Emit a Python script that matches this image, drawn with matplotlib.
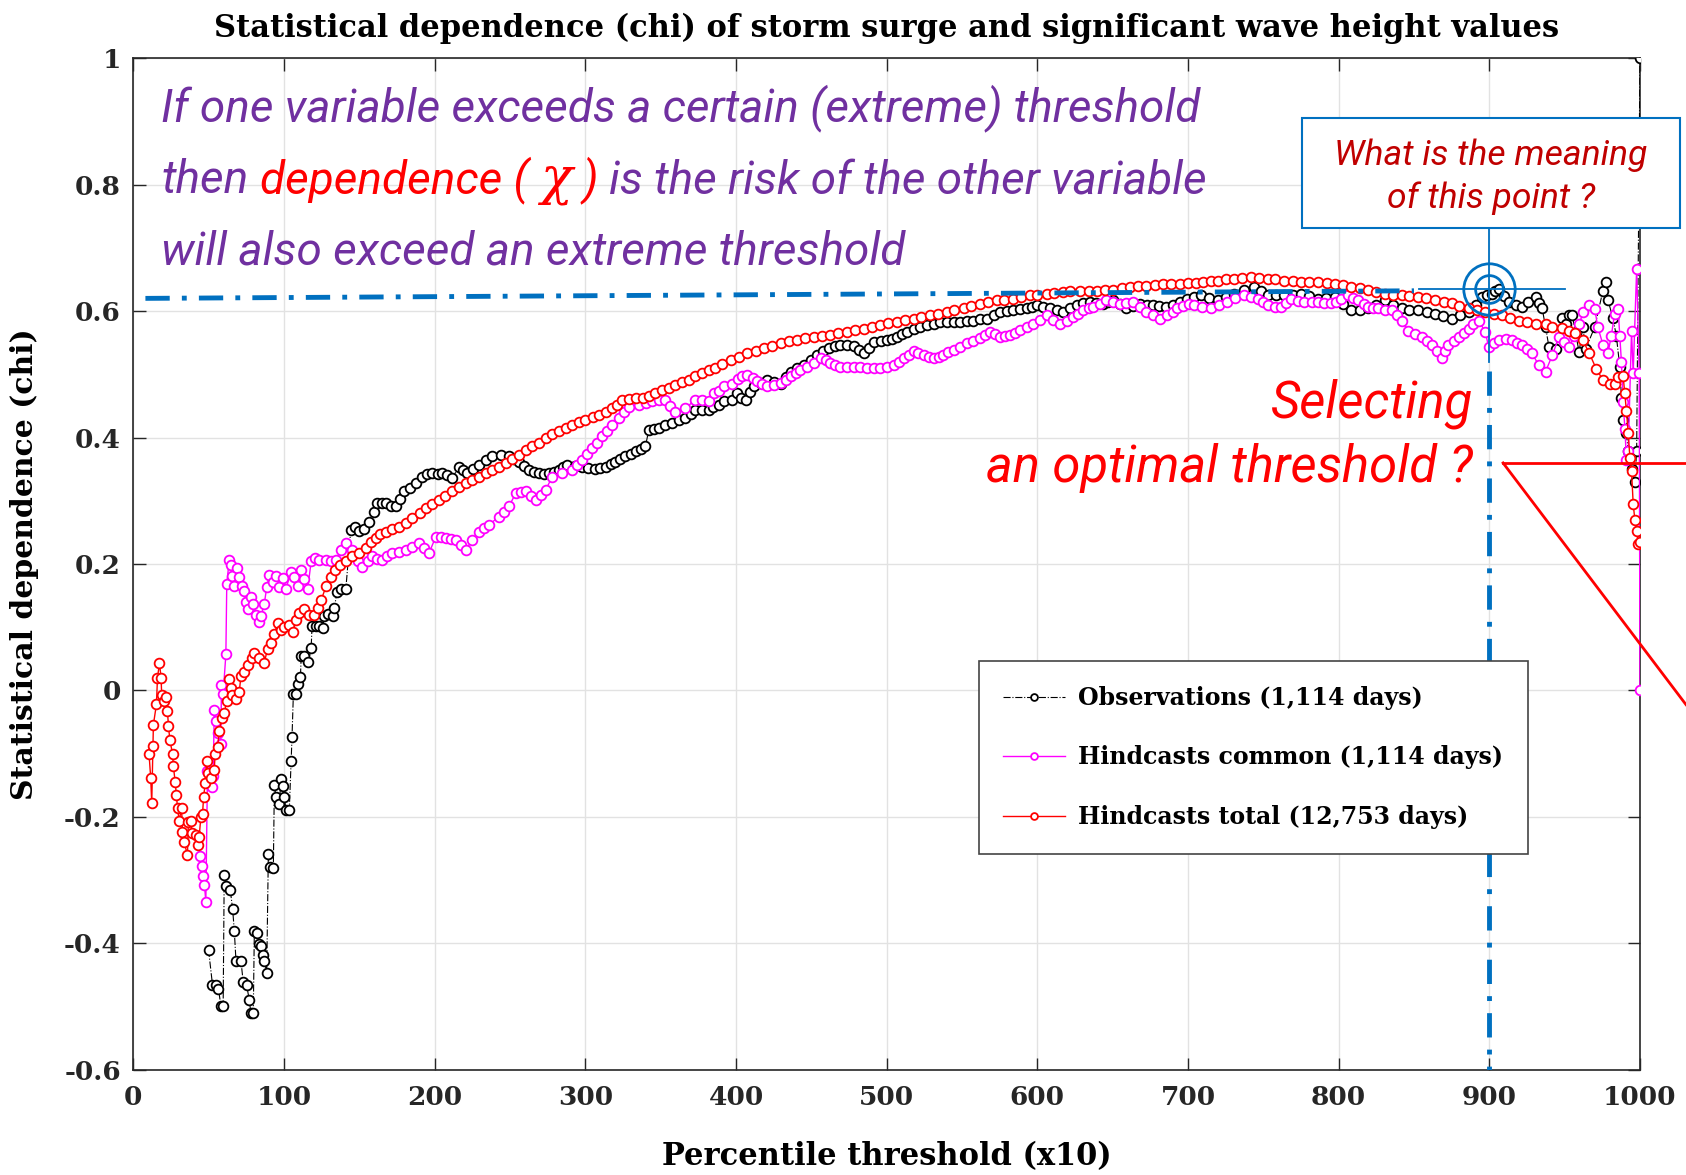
import matplotlib
matplotlib.use('Agg')
import matplotlib.pyplot as plt
from matplotlib.transforms import offset_copy
from matplotlib.patches import Rectangle
from matplotlib.lines import Line2D

plt.rcParams['font.family'] = ['DejaVu Serif']
plt.rcParams['font.weight'] = 'bold'

# Observations (1,114 days)
obs_x = [49.9, 52.5, 54.8, 56.5, 58.1, 59.6, 60.3, 61.4, 64.3, 65.9, 67.0, 68.1, 71.4, 72.9, 75.2, 76.9,
         78.0, 79.6, 80.3, 81.8, 83.1, 84.7, 85.8, 86.9, 88.5, 89.6, 90.7, 92.9, 93.6, 94.7, 96.9, 98.0,
         99.1, 100.2, 101.3, 103.5, 104.7, 105.3, 106.2, 108.0, 109.5, 110.9, 111.4, 113.5, 116.2, 118.0,
         118.6, 121.3, 123.5, 125.7, 126.8, 129.0, 132.4, 133.5, 135.0, 137.5, 141.0, 144.3, 147.0, 150.0,
         153.0, 156.5, 159.5, 162.0, 165.0, 167.5, 171.0, 174.1, 177.0, 179.7, 183.5, 187.4, 191.8, 195.0,
         198.5, 202.0, 205.1, 208.5, 211.7, 216.1, 219.0, 221.7, 225.5, 229.4, 234.0, 238.2, 243.8, 249.3,
         252.5, 255.9, 259.0, 262.5, 266.0, 269.2, 272.5, 275.8, 279.0, 282.4, 285.0, 288.0, 293.0, 297.9,
         302.0, 306.7, 310.0, 313.4, 317.0, 320.0, 323.0, 326.6, 330.0, 333.3, 337.0, 339.9, 342.1, 345.5,
         348.7, 353.0, 357.6, 362.0, 366.4, 370.0, 373.0, 377.5, 381.8, 385.0, 388.5, 392.0, 397.3, 400.9,
         403.5, 406.4, 409.0, 412.0, 416.5, 420.8, 425.0, 429.6, 433.0, 436.2, 440.5, 445.0, 449.5, 453.9,
         457.5, 461.6, 465.5, 469.3, 473.5, 478.1, 481.5, 484.8, 488.0, 491.4, 496.0, 500.2, 503.5, 506.8,
         510.0, 513.5, 518.0, 522.3, 527.0, 531.1, 535.5, 540.0, 544.5, 548.8, 553.0, 557.6, 562.0, 566.4,
         571.0, 575.3, 580.0, 584.1, 588.5, 592.9, 596.5, 599.6, 604.0, 608.4, 613.0, 617.2, 621.5, 626.0,
         630.5, 634.8, 639.0, 643.7, 647.0, 650.3, 655.0, 659.1, 663.5, 668.0, 672.5, 676.8, 681.0, 685.6,
         690.0, 694.5, 699.6, 704.0, 708.4, 714.0, 719.6, 725.0, 730.7, 737.0, 744.0, 748.5, 752.9, 758.5,
         764.0, 769.5, 775.1, 780.5, 786.2, 791.5, 797.3, 803.0, 808.4, 814.0, 819.6, 825.0, 830.7, 836.0,
         841.8, 847.0, 852.9, 858.5, 864.0, 869.5, 875.1, 880.5, 886.2, 891.0, 895.1, 898.5, 901.8, 904.0,
         906.2, 909.5, 912.9, 917.5, 921.8, 926.0, 930.7, 933.0, 935.1, 937.3, 939.6, 944.0, 948.5, 950.7,
         953.0, 955.1, 959.6, 962.0, 964.0, 970.0, 975.4, 977.6, 978.7, 982.0, 984.3, 986.6, 987.7, 988.8,
         991.0, 992.2, 994.4, 996.6, 997.8, 1000.0]
obs_y = [-0.410, -0.465, -0.465, -0.472, -0.499, -0.499, -0.292, -0.309, -0.315, -0.346, -0.380, -0.427,
         -0.427, -0.461, -0.466, -0.489, -0.510, -0.510, -0.380, -0.384, -0.401, -0.404, -0.418, -0.427,
         -0.446, -0.258, -0.279, -0.281, -0.149, -0.169, -0.179, -0.140, -0.151, -0.169, -0.189, -0.189,
         -0.112, -0.074, -0.006, -0.006, 0.010, 0.021, 0.055, 0.055, 0.045, 0.067, 0.102, 0.102, 0.102,
         0.099, 0.117, 0.121, 0.117, 0.131, 0.155, 0.160, 0.160, 0.254, 0.258, 0.252, 0.256, 0.267, 0.282,
         0.296, 0.297, 0.296, 0.292, 0.291, 0.303, 0.315, 0.320, 0.328, 0.338, 0.342, 0.344, 0.343, 0.344,
         0.340, 0.336, 0.354, 0.349, 0.344, 0.351, 0.357, 0.364, 0.370, 0.373, 0.370, 0.366, 0.362, 0.355,
         0.349, 0.346, 0.344, 0.343, 0.344, 0.346, 0.349, 0.353, 0.357, 0.355, 0.354, 0.352, 0.351, 0.352,
         0.354, 0.358, 0.362, 0.366, 0.370, 0.374, 0.378, 0.382, 0.386, 0.412, 0.414, 0.415, 0.419, 0.423,
         0.427, 0.431, 0.437, 0.444, 0.444, 0.444, 0.448, 0.452, 0.458, 0.460, 0.470, 0.463, 0.460, 0.472,
         0.481, 0.486, 0.491, 0.488, 0.484, 0.495, 0.504, 0.510, 0.515, 0.523, 0.531, 0.536, 0.541, 0.544,
         0.546, 0.546, 0.544, 0.538, 0.533, 0.542, 0.551, 0.553, 0.554, 0.556, 0.559, 0.563, 0.567, 0.571,
         0.575, 0.578, 0.580, 0.582, 0.583, 0.583, 0.583, 0.584, 0.585, 0.587, 0.588, 0.593, 0.598, 0.600,
         0.601, 0.603, 0.604, 0.607, 0.609, 0.607, 0.604, 0.601, 0.598, 0.604, 0.609, 0.612, 0.614, 0.613,
         0.611, 0.614, 0.617, 0.611, 0.604, 0.608, 0.611, 0.610, 0.609, 0.608, 0.606, 0.610, 0.614, 0.619,
         0.622, 0.625, 0.621, 0.617, 0.622, 0.627, 0.633, 0.638, 0.632, 0.625, 0.625, 0.625, 0.626, 0.627,
         0.623, 0.619, 0.620, 0.622, 0.611, 0.601, 0.602, 0.604, 0.610, 0.617, 0.610, 0.604, 0.602, 0.601,
         0.598, 0.596, 0.592, 0.588, 0.593, 0.598, 0.610, 0.622, 0.625, 0.627, 0.632, 0.635, 0.624, 0.614,
         0.610, 0.606, 0.614, 0.622, 0.612, 0.604, 0.575, 0.543, 0.540, 0.589, 0.580, 0.593, 0.593, 0.535,
         0.575, 0.540, 0.575, 0.632, 0.646, 0.618, 0.589, 0.561, 0.512, 0.463, 0.428, 0.407, 0.379, 0.350,
         0.329, 0.379, 1.000]

# Hindcasts common (1,114 days)
com_x = [44.3, 45.5, 46.3, 47.2, 48.1, 49.2, 52.5, 53.0, 53.7, 54.8, 55.9, 58.0, 58.5, 59.6, 61.4, 62.0,
         63.6, 64.7, 65.8, 67.0, 68.5, 70.3, 72.0, 73.6, 74.7, 75.8, 78.0, 79.6, 81.4, 83.1, 84.7, 86.9,
         88.5, 90.2, 92.5, 94.7, 96.9, 99.1, 101.3, 104.7, 106.9, 109.0, 111.3, 113.5, 115.7, 118.0, 120.8,
         123.3, 127.7, 131.0, 134.4, 138.0, 141.0, 145.4, 149.0, 152.0, 155.5, 158.6, 162.0, 165.3, 168.5,
         171.9, 176.5, 180.7, 185.0, 189.6, 193.0, 196.2, 200.7, 204.0, 207.3, 210.5, 213.9, 217.5, 220.6,
         225.0, 229.4, 233.0, 236.1, 242.7, 246.0, 249.3, 253.8, 257.0, 260.4, 264.0, 267.0, 270.5, 273.6,
         278.1, 284.6, 291.3, 294.5, 297.9, 301.0, 304.5, 308.0, 311.2, 314.5, 317.8, 322.2, 325.5, 328.8,
         335.5, 340.0, 344.3, 349.0, 353.1, 356.5, 359.8, 366.4, 373.0, 377.5, 381.8, 385.4, 388.5, 392.0,
         397.3, 401.0, 404.0, 407.5, 411.0, 414.2, 417.5, 420.8, 425.0, 429.6, 433.0, 436.2, 439.5, 442.8,
         447.0, 451.7, 456.1, 459.5, 462.7, 466.0, 469.3, 473.5, 478.1, 482.5, 486.9, 491.5, 495.8, 500.0,
         504.6, 508.0, 511.3, 514.5, 517.9, 521.0, 524.5, 528.0, 531.1, 534.5, 537.7, 541.0, 544.4, 548.5,
         553.2, 557.5, 562.0, 565.5, 568.7, 572.0, 575.3, 578.5, 581.9, 585.0, 588.5, 593.0, 597.4, 601.5,
         606.2, 610.5, 615.0, 619.5, 623.8, 627.0, 630.5, 634.0, 637.1, 641.5, 645.9, 650.5, 654.7, 659.0,
         663.6, 668.0, 672.4, 677.0, 681.2, 686.2, 690.0, 692.9, 697.0, 701.0, 704.0, 709.5, 715.1, 720.5,
         726.2, 731.5, 737.3, 742.0, 746.2, 749.5, 752.9, 757.5, 761.8, 765.0, 768.4, 773.0, 777.3, 782.0,
         786.2, 790.5, 795.1, 798.5, 801.8, 806.2, 809.5, 812.9, 816.5, 819.6, 823.0, 826.2, 830.5, 835.1,
         838.5, 841.8, 846.2, 850.5, 855.1, 858.5, 861.8, 865.0, 868.4, 870.5, 872.9, 876.5, 879.6, 883.0,
         886.2, 889.5, 892.9, 897.3, 899.6, 903.0, 906.2, 911.0, 915.1, 918.5, 921.8, 925.0, 928.4, 932.9,
         937.3, 941.8, 946.2, 949.5, 952.9, 956.5, 959.6, 962.5, 966.4, 970.0, 972.0, 975.4, 978.7, 981.0,
         983.2, 985.5, 986.6, 987.7, 988.8, 990.0, 991.0, 992.2, 994.4, 995.5, 997.8, 999.5, 1000.0]
com_y = [-0.262, -0.277, -0.293, -0.308, -0.334, -0.128, -0.152, -0.135, -0.031, -0.049, -0.067, -0.084,
         0.008, -0.005, 0.057, 0.168, 0.206, 0.198, 0.181, 0.165, 0.194, 0.180, 0.165, 0.157, 0.140, 0.129,
         0.148, 0.137, 0.120, 0.109, 0.117, 0.137, 0.163, 0.182, 0.171, 0.181, 0.163, 0.178, 0.161, 0.188,
         0.180, 0.165, 0.191, 0.177, 0.160, 0.204, 0.210, 0.206, 0.206, 0.205, 0.206, 0.222, 0.233, 0.222,
         0.205, 0.196, 0.205, 0.212, 0.208, 0.206, 0.212, 0.217, 0.219, 0.222, 0.227, 0.233, 0.225, 0.217,
         0.243, 0.242, 0.241, 0.240, 0.238, 0.230, 0.222, 0.238, 0.251, 0.257, 0.262, 0.275, 0.283, 0.291,
         0.312, 0.314, 0.315, 0.308, 0.301, 0.309, 0.317, 0.338, 0.344, 0.349, 0.357, 0.365, 0.374, 0.383,
         0.392, 0.402, 0.411, 0.420, 0.431, 0.440, 0.449, 0.452, 0.455, 0.457, 0.459, 0.460, 0.450, 0.441,
         0.446, 0.460, 0.459, 0.457, 0.470, 0.473, 0.481, 0.485, 0.493, 0.497, 0.499, 0.494, 0.489, 0.485,
         0.481, 0.483, 0.486, 0.491, 0.497, 0.502, 0.507, 0.512, 0.518, 0.525, 0.522, 0.518, 0.515, 0.512,
         0.512, 0.512, 0.511, 0.510, 0.510, 0.510, 0.512, 0.515, 0.520, 0.525, 0.531, 0.536, 0.534, 0.531,
         0.528, 0.525, 0.528, 0.531, 0.535, 0.538, 0.543, 0.549, 0.553, 0.557, 0.562, 0.567, 0.563, 0.559,
         0.560, 0.562, 0.566, 0.570, 0.575, 0.580, 0.586, 0.593, 0.586, 0.580, 0.585, 0.590, 0.596, 0.601,
         0.604, 0.606, 0.611, 0.617, 0.614, 0.611, 0.612, 0.614, 0.606, 0.598, 0.593, 0.588, 0.593, 0.598,
         0.604, 0.608, 0.611, 0.609, 0.606, 0.604, 0.609, 0.614, 0.620, 0.625, 0.622, 0.619, 0.614, 0.609,
         0.607, 0.606, 0.612, 0.619, 0.616, 0.614, 0.614, 0.614, 0.613, 0.612, 0.615, 0.619, 0.625, 0.621,
         0.617, 0.611, 0.606, 0.605, 0.604, 0.602, 0.601, 0.593, 0.585, 0.569, 0.564, 0.559, 0.552, 0.546,
         0.536, 0.525, 0.536, 0.546, 0.553, 0.559, 0.566, 0.572, 0.579, 0.585, 0.567, 0.543, 0.549, 0.554,
         0.555, 0.554, 0.550, 0.546, 0.540, 0.533, 0.514, 0.504, 0.530, 0.559, 0.551, 0.543, 0.561, 0.580,
         0.598, 0.610, 0.603, 0.575, 0.547, 0.533, 0.561, 0.596, 0.603, 0.561, 0.519, 0.456, 0.414, 0.365,
         0.379, 0.568, 0.502, 0.667, 0.502, 0.000]

# Hindcasts total (12,753 days)
tot_x = [10.4, 11.5, 12.2, 13.0, 13.3, 15.3, 16.0, 17.3, 18.4, 18.8, 20.4, 21.5, 22.6, 23.3, 24.2, 26.0,
         26.6, 27.7, 28.6, 29.3, 30.4, 32.0, 32.6, 33.7, 35.9, 36.5, 38.0, 39.2, 41.5, 42.6, 43.7, 44.8,
         45.9, 46.6, 47.7, 48.6, 49.4, 51.4, 53.7, 54.3, 55.9, 57.0, 58.8, 60.3, 62.0, 63.6, 64.7, 65.8,
         68.0, 70.3, 71.4, 73.6, 75.8, 78.7, 80.3, 83.6, 86.9, 89.1, 91.4, 93.6, 95.8, 98.0, 100.2, 103.0,
         105.8, 108.0, 110.2, 113.5, 116.9, 120.2, 122.4, 124.6, 128.0, 131.0, 134.0, 137.0, 141.0, 145.4,
         150.0, 154.3, 158.0, 161.0, 164.0, 167.5, 172.0, 176.4, 181.0, 185.2, 190.0, 194.0, 198.5, 202.9,
         207.0, 211.7, 216.0, 220.6, 225.0, 229.4, 234.0, 238.2, 243.0, 247.1, 251.5, 255.9, 260.5, 264.8,
         269.0, 273.6, 278.0, 282.4, 287.0, 291.3, 296.0, 300.1, 305.0, 309.0, 313.5, 317.8, 321.0, 324.4,
         329.0, 333.3, 338.0, 342.1, 346.5, 350.9, 355.5, 359.8, 364.0, 368.6, 373.0, 377.5, 382.0, 386.3,
         391.0, 396.5, 402.0, 407.5, 413.0, 418.5, 424.0, 429.6, 435.0, 440.6, 446.0, 451.7, 457.0, 462.7,
         468.0, 473.7, 479.0, 484.8, 490.0, 495.8, 501.0, 506.8, 512.0, 517.9, 523.0, 528.9, 534.0, 540.0,
         545.0, 551.0, 556.0, 562.0, 567.0, 573.1, 578.0, 584.1, 589.0, 595.1, 600.0, 606.2, 611.0, 617.2,
         622.0, 628.3, 634.0, 639.3, 645.0, 650.3, 656.0, 661.4, 667.0, 672.4, 678.0, 683.4, 689.0, 694.5,
         700.0, 705.0, 710.0, 715.0, 719.6, 725.0, 730.7, 736.0, 741.8, 747.0, 752.9, 758.0, 764.0, 770.0,
         775.1, 780.0, 786.2, 792.0, 797.3, 803.0, 808.4, 814.0, 819.6, 825.0, 830.7, 836.0, 841.8, 847.0,
         852.9, 858.0, 864.0, 870.0, 875.1, 880.0, 886.2, 892.0, 897.3, 903.0, 908.4, 914.0, 919.6, 925.0,
         930.7, 937.4, 941.8, 948.5, 952.9, 957.0, 962.0, 966.4, 970.9, 975.4, 979.9, 983.2, 985.5, 988.8,
         989.9, 991.0, 992.2, 993.3, 994.4, 995.5, 996.6, 997.8, 998.9, 1000.0]
tot_y = [-0.100, -0.138, -0.178, -0.087, -0.054, -0.022, 0.019, 0.044, 0.020, -0.007, -0.016, -0.010,
         -0.032, -0.056, -0.078, -0.100, -0.120, -0.144, -0.166, -0.186, -0.206, -0.186, -0.223, -0.240,
         -0.260, -0.208, -0.206, -0.225, -0.228, -0.245, -0.231, -0.200, -0.196, -0.169, -0.146, -0.112,
         -0.130, -0.139, -0.125, -0.100, -0.090, -0.064, -0.044, -0.036, -0.016, 0.018, 0.004, -0.007,
         -0.013, -0.002, 0.023, 0.030, 0.040, 0.052, 0.060, 0.052, 0.044, 0.066, 0.075, 0.090, 0.106, 0.096,
         0.100, 0.103, 0.093, 0.112, 0.123, 0.129, 0.120, 0.120, 0.131, 0.143, 0.165, 0.180, 0.190, 0.198,
         0.205, 0.212, 0.218, 0.225, 0.234, 0.241, 0.247, 0.251, 0.255, 0.259, 0.265, 0.272, 0.280, 0.288,
         0.295, 0.301, 0.308, 0.315, 0.321, 0.328, 0.333, 0.338, 0.344, 0.349, 0.354, 0.359, 0.366, 0.373,
         0.380, 0.386, 0.392, 0.399, 0.405, 0.410, 0.415, 0.420, 0.424, 0.428, 0.432, 0.436, 0.441, 0.446,
         0.452, 0.460, 0.461, 0.462, 0.463, 0.465, 0.470, 0.475, 0.479, 0.483, 0.487, 0.491, 0.497, 0.502,
         0.506, 0.510, 0.516, 0.523, 0.528, 0.533, 0.537, 0.541, 0.545, 0.549, 0.552, 0.554, 0.557, 0.559,
         0.561, 0.562, 0.565, 0.567, 0.570, 0.572, 0.575, 0.578, 0.581, 0.583, 0.586, 0.588, 0.591, 0.593,
         0.596, 0.598, 0.601, 0.604, 0.608, 0.611, 0.614, 0.617, 0.618, 0.619, 0.622, 0.625, 0.626, 0.627,
         0.629, 0.630, 0.631, 0.632, 0.632, 0.632, 0.633, 0.633, 0.636, 0.638, 0.639, 0.640, 0.641, 0.642,
         0.642, 0.643, 0.644, 0.645, 0.646, 0.647, 0.648, 0.650, 0.651, 0.652, 0.654, 0.653, 0.651, 0.650,
         0.648, 0.647, 0.646, 0.646, 0.646, 0.645, 0.643, 0.641, 0.638, 0.636, 0.633, 0.630, 0.627, 0.626,
         0.625, 0.624, 0.622, 0.620, 0.617, 0.615, 0.612, 0.608, 0.604, 0.601, 0.598, 0.596, 0.593, 0.589,
         0.585, 0.583, 0.580, 0.580, 0.575, 0.573, 0.569, 0.565, 0.554, 0.533, 0.509, 0.491, 0.484, 0.484,
         0.495, 0.498, 0.470, 0.442, 0.407, 0.368, 0.347, 0.295, 0.270, 0.252, 0.231, 0.235]

x_ticks = [0, 100, 200, 300, 400, 500, 600, 700, 800, 900, 1000]
y_ticks = [-0.6, -0.4, -0.2, 0, 0.2, 0.4, 0.6, 0.8, 1]
y_tick_labels = ['-0.6', '-0.4', '-0.2', '0', '0.2', '0.4', '0.6', '0.8', '1']

BLUE = '#0070C0'
PURPLE = '#7030A0'
note_font = ['Roboto', 'DejaVu Sans']

fig = plt.figure(figsize=(16.86, 11.75), dpi=100)
ax = fig.add_axes([0.0791, 0.0894, 0.8936, 0.8612])

mk = dict(marker='o', markersize=7, markerfacecolor='white', markeredgewidth=1.3)
ax.plot(obs_x, obs_y, '-.', color='black', lw=0.8, markeredgecolor='black',
        label='Observations (1,114 days)', zorder=3, **mk)
ax.plot(com_x, com_y, '-', color='#FF00FF', lw=1.0, markeredgecolor='#FF00FF',
        label='Hindcasts common (1,114 days)', zorder=3, **mk)
ax.plot(tot_x, tot_y, '-', color='red', lw=1.0, markeredgecolor='red',
        label='Hindcasts total (12,753 days)', zorder=3, **mk)

ax.set_xlim(0, 1000)
ax.set_ylim(-0.6, 1)
ax.set_xticks(x_ticks)
ax.set_yticks(y_ticks)
ax.set_yticklabels(y_tick_labels)
ax.grid(True, color='#e2e2e2', lw=1)
ax.set_axisbelow(True)
ax.tick_params(direction='in', length=9, width=1, top=True, right=True,
               labelsize=19, colors='#262626')
ax.tick_params(axis='x', pad=11)
ax.tick_params(axis='y', pad=9)
for s in ax.spines.values():
    s.set_color('#262626')
    s.set_linewidth(1.2)

ax.set_title('Statistical dependence (chi) of storm surge and significant wave height values',
             fontsize=22, fontweight='bold', pad=15)
ax.set_xlabel('Percentile threshold (x10)', fontsize=22, fontweight='bold', labelpad=22)
ax.set_ylabel('Statistical dependence (chi)', fontsize=21.5, fontweight='bold', labelpad=18)

leg = ax.legend(loc='upper left', bbox_to_anchor=(0.561, 0.404), borderaxespad=0,
                prop={'family': 'DejaVu Serif', 'weight': 'bold', 'size': 17},
                fancybox=False, edgecolor='#444444', framealpha=1, borderpad=1.05,
                labelspacing=1.5, handlelength=2.6, handletextpad=0.55, markerscale=0.7)
leg.get_frame().set_linewidth(1.2)

# threshold guide lines
ax.plot([8, 850], [0.620, 0.632], color=BLUE, lw=3.5, dashes=(5, 2.5, 1, 2.5), zorder=4)
ax.plot([900, 900], [0.505, -0.6], color=BLUE, lw=3.5, dashes=(5, 2.5, 1, 2.5), zorder=4)
ax.plot([900, 900], [0.52, 0.731], color=BLUE, lw=1.3, zorder=5, clip_on=False)
ax.plot([853, 950], [0.635, 0.635], color=BLUE, lw=1.3, zorder=5)
ax.plot([900], [0.635], 'o', ms=37, mfc='none', mec=BLUE, mew=2, zorder=5)
ax.plot([900], [0.635], 'o', ms=20, mfc='none', mec=BLUE, mew=2, zorder=5)

fig.canvas.draw()
rend = fig.canvas.get_renderer()


def width_px(t):
    return t.get_window_extent(rend).width


def fit(t, target):
    t.set_fontsize(t.get_fontsize() * target / width_px(t))
    return t.get_fontsize()


note = dict(family=note_font, style='italic', fontweight='normal', va='baseline')
t1 = ax.text(18.4, 0.900, 'If one variable exceeds a certain (extreme) threshold',
             color=PURPLE, fontsize=30, **note)
fs = fit(t1, 1036)
ax.text(18.4, 0.673, 'will also exceed an extreme threshold', color=PURPLE, fontsize=fs, **note)

sp = ax.text(0, 0, 'a a', fontsize=fs, **note)
sp2 = ax.text(0, 0, 'aa', fontsize=fs, **note)
space = width_px(sp) - width_px(sp2)
sp.remove()
sp2.remove()

pieces = [('then', PURPLE, fs, note_font), ('dependence (', 'red', fs, note_font),
          ('\u03c7', 'red', fs * 1.15, ['DejaVu Serif']), (')', 'red', fs, note_font),
          ('is the risk of the other variable', PURPLE, fs, note_font)]
dx = 0
for s, c, size, fam in pieces:
    tr = offset_copy(ax.transData, fig=fig, x=dx, y=0, units='dots')
    t = ax.text(18.4, 0.786, s, color=c, fontsize=size, transform=tr, family=fam,
                style='italic', fontweight='normal', va='baseline')
    dx += width_px(t) + space

t2 = ax.text(889, 0.330, 'an optimal threshold ?', color='red', fontsize=32, ha='right', **note)
fs2 = fit(t2, 487)
ax.text(889, 0.432, 'Selecting', color='red', fontsize=fs2, ha='right', **note)

# question box
fig.add_artist(Rectangle((0.7722, 0.806), 0.2242, 0.0936, transform=fig.transFigure,
                         facecolor='white', edgecolor=BLUE, lw=1.5, zorder=10))
q1 = fig.text(0.8843, 0.860, 'What is the meaning', color='#C00000', fontsize=24,
              ha='center', zorder=11, **note)
fs3 = fit(q1, 314)
fig.text(0.8843, 0.8234, 'of this point ?', color='#C00000', fontsize=fs3, ha='center',
         zorder=11, **note)

# red pointer lines
fig.add_artist(Line2D([0.8915, 1.0], [0.606, 0.606], color='red', lw=2, transform=fig.transFigure))
fig.add_artist(Line2D([0.8915, 1.0], [0.606, 0.4003], color='red', lw=2, transform=fig.transFigure))

fig.savefig('out.png', dpi=100, facecolor='white')
